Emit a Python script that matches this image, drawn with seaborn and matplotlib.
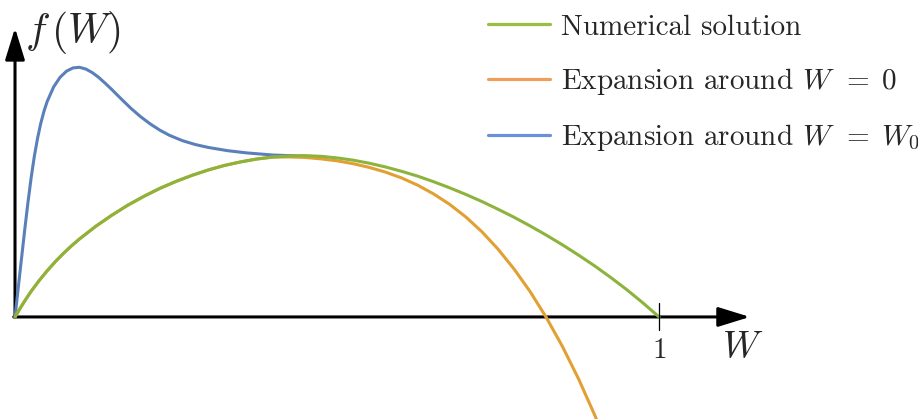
import numpy as np
import seaborn as sns
import matplotlib.pyplot as plt
from matplotlib.lines import Line2D

# numerical solution f(W)
w_num = [0, 0.01, 0.0175, 0.025, 0.0375, 0.05, 0.0625, 0.075, 0.0875, 0.1, 0.125, 0.15, 0.175,
         0.2, 0.225, 0.25, 0.275, 0.3, 0.325, 0.35, 0.375, 0.4, 0.425, 0.45, 0.475, 0.5, 0.525,
         0.55, 0.575, 0.6, 0.625, 0.65, 0.675, 0.7, 0.725, 0.75, 0.775, 0.8, 0.825, 0.85, 0.875,
         0.9, 0.925, 0.95, 0.975, 1.0]
f_num = [0, 0.067, 0.114, 0.159, 0.226, 0.287, 0.343, 0.394, 0.441, 0.484, 0.562, 0.631, 0.694,
         0.749, 0.799, 0.842, 0.880, 0.913, 0.941, 0.963, 0.981, 0.993, 1.000, 1.002, 0.998, 0.988, 0.974,
         0.955, 0.932, 0.905, 0.875, 0.840, 0.802, 0.761, 0.717, 0.669, 0.619, 0.565, 0.508, 0.448, 0.384,
         0.317, 0.245, 0.169, 0.087, 0]

# expansion around W = 0
w_exp0 = [0, 0.01, 0.0175, 0.025, 0.0375, 0.05, 0.0625, 0.075, 0.0875, 0.1, 0.125, 0.15, 0.175,
          0.2, 0.225, 0.25, 0.275, 0.3, 0.325, 0.35, 0.375, 0.4, 0.425, 0.45, 0.475, 0.5, 0.525,
          0.55, 0.575, 0.6, 0.625, 0.65, 0.675, 0.7, 0.725, 0.75, 0.775, 0.8, 0.825, 0.85, 0.875,
          0.9, 0.925]
f_exp0 = [0, 0.067, 0.114, 0.159, 0.226, 0.287, 0.343, 0.394, 0.441, 0.484, 0.562, 0.631, 0.694,
          0.749, 0.799, 0.842, 0.880, 0.913, 0.941, 0.963, 0.981, 0.993, 0.994, 0.991, 0.982, 0.970, 0.952,
          0.929, 0.900, 0.864, 0.819, 0.764, 0.699, 0.621, 0.529, 0.421, 0.297, 0.156, -0.004, -0.184, -0.385,
          -0.609, -0.857]

# expansion around W = W0
w_expw0 = [0, 0.005, 0.01, 0.015, 0.02, 0.025, 0.03, 0.035, 0.04, 0.045, 0.05, 0.06, 0.07, 0.08,
           0.09, 0.1, 0.11, 0.12, 0.13, 0.14, 0.15, 0.165, 0.18, 0.195, 0.21, 0.225, 0.24, 0.26,
           0.28, 0.3, 0.33, 0.36, 0.4, 0.44, 0.48]
f_expw0 = [0, 0.180, 0.360, 0.538, 0.708, 0.863, 0.998, 1.110, 1.203, 1.278, 1.339, 1.429, 1.489, 1.527,
           1.547, 1.551, 1.540, 1.518, 1.488, 1.452, 1.414, 1.354, 1.296, 1.244, 1.199, 1.160, 1.128, 1.095,
           1.071, 1.053, 1.033, 1.019, 1.006, 1.000, 0.994]

labels = ["Numerical solution", r"Expansion around $W\;\,=\;0$", r"Expansion around $W\;\,=\;W_0$"]
line_colors = ["#8cb43c", "#e2a032", "#5a80b9"]
legend_colors = ["#97bf40", "#eda05e", "#6b8fda"]

sns.set_theme(style="white")
plt.rcParams["font.family"] = ["cmr10", "DejaVu Serif"]
plt.rcParams["mathtext.fontset"] = "cm"
plt.rcParams["axes.unicode_minus"] = False

fig = plt.figure(figsize=(9.18, 4.19), dpi=100)
ax = fig.add_axes([0, 0, 1, 1])

sns.lineplot(x=w_expw0, y=f_expw0, color=line_colors[2], lw=2.2, ax=ax, zorder=3)
sns.lineplot(x=w_exp0, y=f_exp0, color=line_colors[1], lw=2.2, ax=ax, zorder=4)
sns.lineplot(x=w_num, y=f_num, color=line_colors[0], lw=2.2, ax=ax, zorder=5)

ax.set_xlim(-0.0233, 1.402)
ax.set_ylim(-0.634, 1.969)
ax.axis("off")

# axes with arrows
arrow = dict(arrowstyle="-|>,head_length=0.97,head_width=0.3", mutation_scale=20,
             lw=2.2, color="black", shrinkA=0, shrinkB=0)
ax.annotate("", xy=(1.141, 0), xytext=(-0.002, 0), arrowprops=arrow, zorder=2)
ax.annotate("", xy=(0, 1.795), xytext=(0, -0.002), arrowprops=arrow, zorder=2)
ax.plot([1, 1], [-0.081, 0.087], color="black", lw=0.9, zorder=6)
ax.text(1, -0.255, "$1$", fontsize=21, ha="center", va="baseline")
ax.text(1.130, -0.255, "$W$", fontsize=27, ha="center", va="baseline")
ax.text(0.015, 1.700, r"$f\,(W)$", fontsize=30, ha="left", va="baseline")

handles = [Line2D([], [], color=c, lw=2.3) for c in legend_colors]
ax.legend(handles, labels, loc="upper left", bbox_to_anchor=(0.5316, 0.966),
          frameon=False, fontsize=21, handlelength=2.12, handletextpad=0.38,
          labelspacing=0.87, borderpad=0, borderaxespad=0)

fig.savefig("out.png", dpi=100)
